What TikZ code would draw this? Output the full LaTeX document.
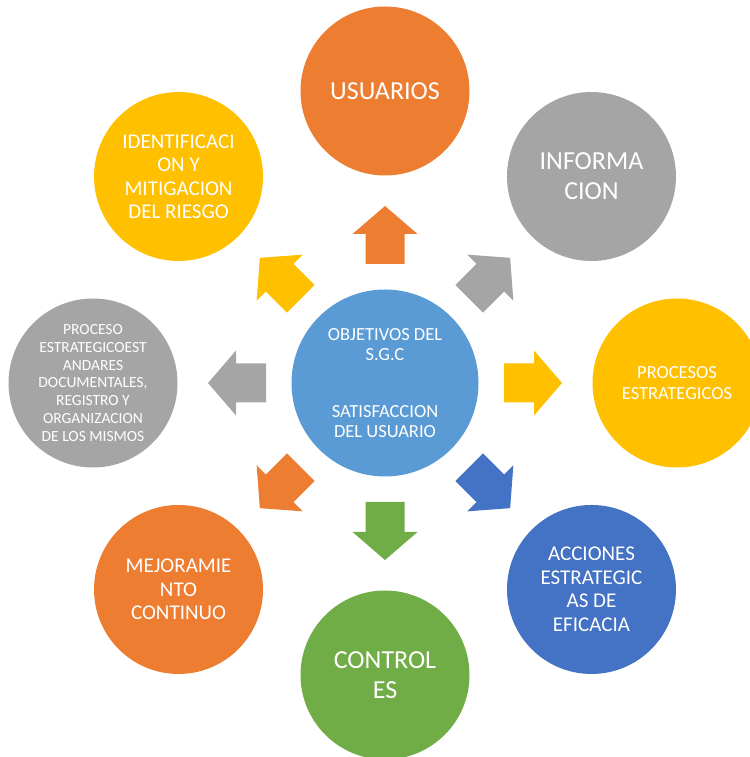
\documentclass[tikz,border=0pt]{standalone}
\usepackage{fontspec}
\setmainfont{Carlito}
\definecolor{corange}{HTML}{ED7D31}
\definecolor{cgray}{HTML}{A5A5A5}
\definecolor{cgold}{HTML}{FFC000}
\definecolor{cblue}{HTML}{5B9BD5}
\definecolor{cdblue}{HTML}{4472C4}
\definecolor{cgreen}{HTML}{70AD47}
\begin{document}
\begin{tikzpicture}[x=1pt,y=1pt,
  disc/.style={circle, minimum size=169pt, inner sep=0pt, draw=none},
  lbl/.style={text=white, align=center, inner sep=0pt},
  bigtxt/.style={lbl, font=\fontsize{26}{30}\selectfont},
  midtxt/.style={lbl, font=\fontsize{21}{23.5}\selectfont},
  smltxt/.style={lbl, font=\fontsize{18.5}{20.5}\selectfont},
  tinytxt/.style={lbl, font=\fontsize{15.5}{17.7}\selectfont},
  blockarrow/.style={draw=none}]
\useasboundingbox (0,0) rectangle (749,757);
% centre
\node[disc, fill=cblue, minimum size=187pt] (c) at (385,374) {};
% outer discs
\node[disc, fill=corange] (usu) at ([shift={(90:292pt)}]c) {};
\node[disc, fill=cgray]   (inf) at ([shift={(45:292pt)}]c) {};
\node[disc, fill=cgold]   (pro) at ([shift={(0:292pt)}]c) {};
\node[disc, fill=cdblue]  (acc) at ([shift={(-45:292pt)}]c) {};
\node[disc, fill=cgreen]  (con) at ([shift={(-90:292pt)}]c) {};
\node[disc, fill=corange] (mej) at ([shift={(-135:292pt)}]c) {};
\node[disc, fill=cgray]   (est) at ([shift={(180:292pt)}]c) {};
\node[disc, fill=cgold]   (ide) at ([shift={(135:292pt)}]c) {};
% arrows
\foreach \ang/\col in {90/corange,45/cgray,0/cgold,-45/cdblue,-90/cgreen,-135/corange,180/cgray,135/cgold}{
  \begin{scope}[shift={(c.center)}, rotate=\ang]
    \fill[\col, blockarrow] (119,-19.5) -- (149,-19.5) -- (149,-32.5) -- (177,0)
      -- (149,32.5) -- (149,19.5) -- (119,19.5) -- cycle;
  \end{scope}
}
% labels
\node[smltxt] (tc) at (c) {OBJETIVOS DEL\\S.G.C\\[36pt]SATISFACCION\\DEL USUARIO};
\node[bigtxt] (tusu) at (usu) {USUARIOS};
\node[bigtxt] (tinf) at (inf) {INFORMA\\CION};
\node[smltxt] (tpro) at (pro) {PROCESOS\\ESTRATEGICOS};
\node[midtxt] (tacc) at (acc) {ACCIONES\\ESTRATEGIC\\AS DE\\EFICACIA};
\node[bigtxt] (tcon) at (con) {CONTROL\\ES};
\node[midtxt] (tmej) at (mej) {MEJORAMIE\\NTO\\CONTINUO};
\node[tinytxt] (test) at (est) {PROCESO\\ESTRATEGICOEST\\ANDARES\\DOCUMENTALES,\\REGISTRO Y\\ORGANIZACION\\DE LOS MISMOS};
\node[midtxt] (tide) at (ide) {IDENTIFICACI\\ON Y\\MITIGACION\\DEL RIESGO};
\end{tikzpicture}
\end{document}
